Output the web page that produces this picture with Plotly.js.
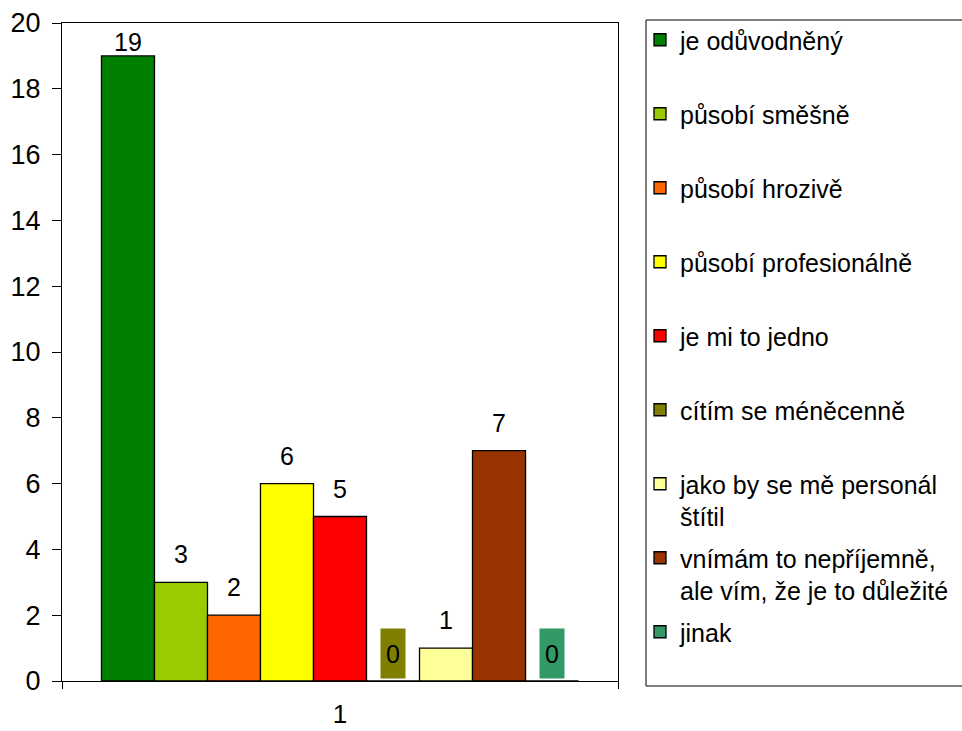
<!DOCTYPE html>
<html>
<head>
<meta charset="utf-8">
<script src="https://cdn.plot.ly/plotly-3.0.1.min.js"></script>
<style>html,body{margin:0;padding:0;background:#fff;}#chart{width:962px;height:731px;}</style>
</head>
<body>
<div id="chart"></div>
<script>
// ---- data ----
const categories = ['1'];
const seriesNames = [
  'je odůvodněný',
  'působí směšně',
  'působí hrozivě',
  'působí profesionálně',
  'je mi to jedno',
  'cítím se méněcenně',
  'jako by se mě personál<br>štítil',
  'vnímám to nepříjemně,<br>ale vím, že je to důležité',
  'jinak'
];
const seriesValues = [19, 3, 2, 6, 5, 0, 1, 7, 0];
const seriesColors = ['#008000', '#99CC00', '#FF6600', '#FFFF00', '#FF0000', '#808000', '#FFFF99', '#993300', '#339966'];
const yTickValues = [0, 2, 4, 6, 8, 10, 12, 14, 16, 18, 20];

// ---- layout constants ----
const FONT = 'Liberation Sans, Arial, sans-serif';
const W = 962, H = 731;
const M = {l: 62, r: 344, t: 23, b: 50, autoexpand: false};
const plotW = W - M.l - M.r;
const plotH = H - M.t - M.b;
const yMax = 20;
const pxPerUnit = plotH / yMax;
const bargap = 0.142;
const n = seriesValues.length;
const px2x = p => (p - M.l) / plotW;
const px2y = p => (H - M.b - p) / plotH;

const traces = seriesNames.map((name, i) => {
  const lines = name.split('<br>').length;
  return {
    type: 'bar',
    x: categories,
    y: [seriesValues[i]],
    name: lines < 2 ? name + '<br>' : name,
    legendgroup: 'g' + i,
    marker: {color: seriesColors[i], line: {color: '#000', width: 1.3}},
    hoverinfo: 'skip'
  };
});

const annotations = seriesValues.map((v, i) => {
  const slot = (1 - bargap) / n;
  const labelShift = Math.min(28, (yMax - v) * pxPerUnit - 19);
  const a = {
    xref: 'x', yref: 'y',
    x: (i - (n - 1) / 2) * slot,
    y: v,
    yanchor: 'middle', xanchor: 'center',
    yshift: labelShift,
    text: String(v),
    showarrow: false,
    font: {family: FONT, size: 25, color: '#000'}
  };
  if (v === 0) {
    a.bgcolor = seriesColors[i];
    a.width = 24; a.height = 49; a.borderpad = 0;
  }
  return a;
});

const layout = {
  width: W, height: H,
  margin: M,
  paper_bgcolor: '#fff', plot_bgcolor: '#fff',
  font: {family: FONT, color: '#000'},
  barmode: 'group',
  bargap: bargap,
  bargroupgap: 0,
  showlegend: true,
  legend: {
    x: px2x(640), xanchor: 'left',
    y: px2y(17), yanchor: 'top',
    font: {family: FONT, size: 25, color: '#000'},
    bgcolor: 'rgba(0,0,0,0)', borderwidth: 0,
    traceorder: 'grouped',
    tracegroupgap: 6,
    valign: 'top',
    maxheight: 720
  },
  shapes: [{
    type: 'rect', xref: 'paper', yref: 'paper', layer: 'below',
    x0: px2x(646), x1: px2x(975), y0: px2y(686), y1: px2y(20),
    line: {color: '#000', width: 1}, fillcolor: '#fff'
  }],
  xaxis: {
    type: 'category',
    showline: true, linecolor: '#000', linewidth: 1, mirror: true,
    ticks: 'outside', tickson: 'boundaries', ticklen: 7, tickcolor: '#000',
    tickfont: {family: FONT, size: 26, color: '#000'},
    ticklabelstandoff: 10,
    showgrid: false, zeroline: false, fixedrange: true
  },
  yaxis: {
    range: [0, yMax],
    tickvals: yTickValues,
    showline: true, linecolor: '#000', linewidth: 1, mirror: true,
    ticks: 'outside', ticklen: 9, tickcolor: '#000',
    tickfont: {family: FONT, size: 27, color: '#000'},
    ticklabelstandoff: 6,
    showgrid: false, zeroline: false, fixedrange: true
  },
  annotations: annotations
};

Plotly.newPlot('chart', traces, layout, {staticPlot: true, displayModeBar: false});
</script>
</body>
</html>
